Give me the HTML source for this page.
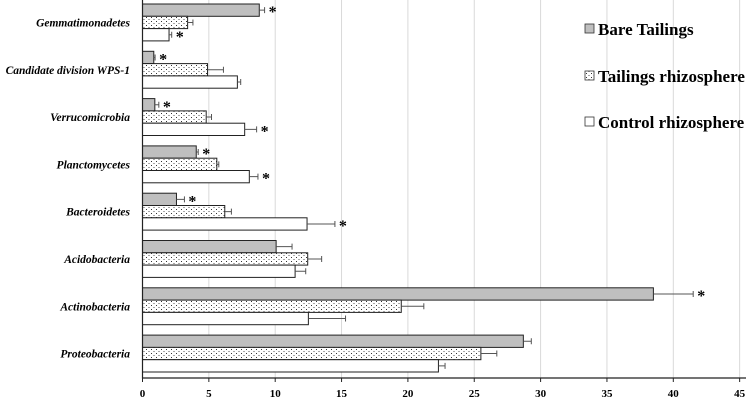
<!DOCTYPE html>
<html><head><meta charset="utf-8"><style>
html,body{margin:0;padding:0;background:#fff;}
svg{display:block;font-family:"Liberation Serif",serif;}
</style></head><body>
<svg id="chart" width="746" height="401" viewBox="0 0 746 401">
<defs>
<pattern id="dots" width="5" height="4" patternUnits="userSpaceOnUse">
<rect width="5" height="4" fill="#fff"/>
<rect x="1" y="1" width="1" height="1" fill="#333"/>
<rect x="3.5" y="3" width="1" height="1" fill="#555"/>
</pattern>
</defs>
<g id="grid"></g><g id="bars"></g><g id="labels"></g>
<g>
<rect x="585" y="24" width="9" height="9" fill="#bfbfbf" stroke="#333" stroke-width="0.8"/>
<text x="598" y="35" font-size="17" font-weight="bold">Bare Tailings</text>
<rect x="585" y="71" width="9" height="9" fill="url(#dots)" stroke="#333" stroke-width="0.8"/>
<text x="598" y="82" font-size="17" font-weight="bold">Tailings rhizosphere</text>
<rect x="585" y="117" width="9" height="9" fill="#fff" stroke="#333" stroke-width="0.8"/>
<text x="598" y="128" font-size="17" font-weight="bold">Control rhizosphere</text>
</g>
</svg>
<script>
const categories=["Gemmatimonadetes","Candidate division WPS-1","Verrucomicrobia","Planctomycetes","Bacteroidetes","Acidobacteria","Actinobacteria","Proteobacteria"];
const bareValues=[8.8,0.85,0.93,4.05,2.56,10.07,38.5,28.7];
const bareErr=[0.4,0.1,0.3,0.15,0.6,1.2,3.0,0.6];
const rhizoValues=[3.4,4.9,4.8,5.6,6.2,12.45,19.5,25.5];
const rhizoErr=[0.4,1.2,0.4,0.15,0.5,1.05,1.7,1.2];
const controlValues=[2.0,7.15,7.7,8.05,12.4,11.5,12.5,22.3];
const controlErr=[0.2,0.25,0.9,0.65,2.1,0.8,2.8,0.5];
const bareStar=[1,1,1,1,1,0,1,0];
const rhizoStar=[0,0,0,0,0,0,0,0];
const controlStar=[1,0,1,1,1,0,0,0];
const ticks=[0,5,10,15,20,25,30,35,40,45];

const NS="http://www.w3.org/2000/svg";
const x0=142.5,pxPer=13.27,top0=4,band=47.3,bh=12.3,axisY=378;
const xs=v=>x0+v*pxPer;
function mk(tag,attrs,parent){const e=document.createElementNS(NS,tag);for(const k in attrs)e.setAttribute(k,attrs[k]);parent.appendChild(e);return e;}
const grid=document.getElementById('grid'),bars=document.getElementById('bars'),labels=document.getElementById('labels');
ticks.forEach(t=>{
 if(t>0){const l=mk('line',{x1:xs(t),x2:xs(t),y1:0,y2:axisY,stroke:'#d9d9d9','stroke-width':1},grid);
 
 }
 const tx=mk('text',{x:xs(t),y:397,'font-size':11,'font-weight':'bold','text-anchor':'middle'},labels);
 tx.textContent=t;
 
 
});
const series=[[bareValues,bareErr,bareStar,'#bfbfbf','bare'],[rhizoValues,rhizoErr,rhizoStar,'url(#dots)','rhizo'],[controlValues,controlErr,controlStar,'#fff','control']];
categories.forEach((c,i)=>{
 const gy=top0+i*band;
 const lt=mk('text',{x:130,y:gy+bh*1.5+4,'font-size':11.5,'font-weight':'bold','font-style':'italic','text-anchor':'end'},labels);
 lt.textContent=c;
 
 
 series.forEach((s,j)=>{
  const y=gy+j*bh,v=s[0][i],e=s[1][i];
  const r=mk('rect',{x:x0,y:y,width:xs(v)-x0,height:bh,fill:s[3],stroke:'#222','stroke-width':1},bars);
  
  
  const ex=xs(v+e),cy=y+bh/2;
  const el=mk('path',{d:`M${xs(v)} ${cy}H${ex}M${ex} ${cy-3}V${cy+3}`,stroke:'#555','stroke-width':1,fill:'none'},bars);
  
  
  if(s[2][i]){const st=mk('text',{x:ex+4,y:cy+7,'font-size':16,'font-weight':'bold'},bars);
   st.textContent='*';
   
   }
 });
});
const ax=mk('path',{d:`M${x0} 0V${axisY}H746`,stroke:'#222','stroke-width':1.2,fill:'none'},bars);


ticks.forEach(t=>{mk('line',{x1:xs(t),x2:xs(t),y1:axisY,y2:axisY+4,stroke:'#222'},bars);});
</script>
</body></html>
